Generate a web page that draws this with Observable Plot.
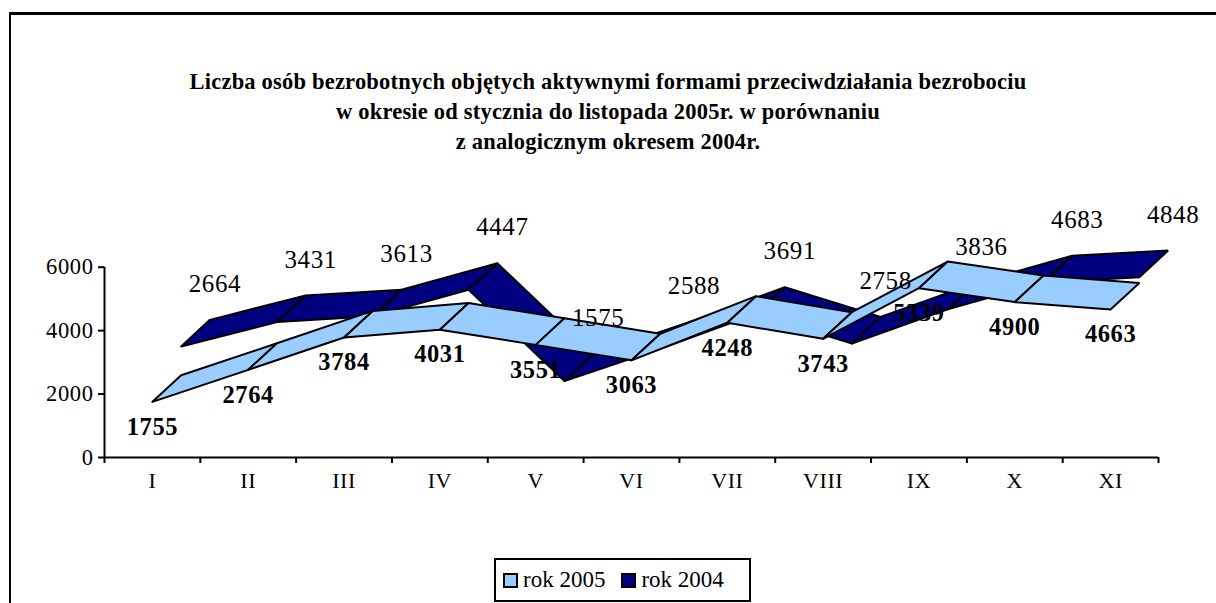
<!DOCTYPE html>
<html>
<head>
<meta charset="utf-8">
<script src="https://cdn.jsdelivr.net/npm/d3@7"></script>
<script src="https://cdn.jsdelivr.net/npm/@observablehq/plot@0.6"></script>
<style>
  html, body { margin: 0; padding: 0; background: #fff; }
  #page { position: relative; width: 1216px; height: 603px; overflow: hidden; font-family: "Liberation Serif", "Times New Roman", serif; color: #000; }
  #frame { position: absolute; left: 9px; top: 12px; width: 1300px; height: 700px; border-left: 2px solid #000; border-top: 3px solid #000; box-sizing: border-box; }
  #title { position: absolute; left: 0; top: 67px; width: 1216px; text-align: center; font-weight: bold; font-size: 22.5px; line-height: 30px; letter-spacing: 0.2px; }
  #chart { position: absolute; left: 0; top: 0; }
  #chart svg text { letter-spacing: 0.6px; }
  #legend { position: absolute; left: 494px; top: 558px; width: 257px; height: 44px; box-sizing: border-box; border: 2px solid #000; display: flex; align-items: center; padding-left: 7px; font-size: 23px; background: #fff; }
  .item { display: flex; align-items: center; margin-right: 16px; }
  .sw { width: 15px; height: 15px; box-sizing: border-box; border: 2px solid #000; margin-right: 5px; }
</style>
</head>
<body>
<div id="page">
  <div id="frame"></div>
  <div id="title">Liczba osób bezrobotnych objętych aktywnymi formami przeciwdziałania bezrobociu<br>w okresie od stycznia do listopada 2005r. w porównaniu<br>z analogicznym okresem 2004r.</div>
  <div id="chart"></div>
  <div id="legend"></div>
</div>
<script>
// ---- data ----
const months = ["I", "II", "III", "IV", "V", "VI", "VII", "VIII", "IX", "X", "XI"];
const values2005 = [1755, 2764, 3784, 4031, 3551, 3063, 4248, 3743, 5339, 4900, 4663];
const values2004 = [2664, 3431, 3613, 4447, 1575, 2588, 3691, 2758, 3836, 4683, 4848];
const seriesNames = ["rok 2005", "rok 2004"];
const seriesColors = ["#99CCFF", "#000080"];
const yTicks = [0, 2000, 4000, 6000];

// ---- 3D ribbon geometry (depth offset expressed in scale units) ----
const DEPTH_X = 0.3;   // fraction of a category per depth step
const DEPTH_Y = 838;   // value units per depth step

function ribbon(values, d0) {
  const rows = [];
  for (let k = 0; k < values.length - 1; k++) {
    const corners = [[k, d0], [k + 1, d0], [k + 1, d0 + 1], [k, d0 + 1], [k, d0]];
    for (const [i, d] of corners) {
      rows.push({seg: k, x: i + 0.5 + d * DEPTH_X, y: values[i] + d * DEPTH_Y});
    }
  }
  return rows;
}
const ribbon2005 = ribbon(values2005, 0);
const ribbon2004 = ribbon(values2004, 1);

const plot = Plot.plot({
  width: 1216,
  height: 603,
  marginLeft: 104,
  marginRight: 58,
  marginTop: 266.7,
  marginBottom: 146,
  style: {fontFamily: "'Liberation Serif', 'Times New Roman', serif", fontSize: "22px", color: "#000", background: "transparent", overflow: "visible"},
  x: {type: "linear", domain: [0, months.length]},
  y: {domain: [0, 6000]},
  marks: [
    Plot.axisY({ticks: yTicks, tickSize: 6, tickPadding: 5, tickFormat: d3.format("d"), label: null, fontSize: 22.5, strokeWidth: 2}),
    Plot.axisX({ticks: d3.range(months.length + 1), tickSize: 6, tickFormat: () => "", label: null, strokeWidth: 2}),
    Plot.text(months, {x: (d, i) => i + 0.5, y: 0, text: d => d, dy: 23, fontSize: 22}),
    Plot.ruleY([0], {stroke: "#000", strokeWidth: 2}),
    Plot.ruleX([0], {stroke: "#000", strokeWidth: 2}),
    Plot.line(ribbon2004, {x: "x", y: "y", z: "seg", fill: seriesColors[1], stroke: "#000", strokeWidth: 2, strokeLinejoin: "miter", curve: "linear"}),
    Plot.line(ribbon2005, {x: "x", y: "y", z: "seg", fill: seriesColors[0], stroke: "#000", strokeWidth: 2, strokeLinejoin: "miter", curve: "linear"}),
    Plot.text(values2004, {x: (d, i) => i + 0.5 + 2 * DEPTH_X, y: (d) => d + 2 * DEPTH_Y, text: d => String(d), dx: 5, dy: -36, fontSize: 25}),
    Plot.text(values2005, {x: (d, i) => i + 0.5, y: d => d, text: d => String(d), dy: 25, fontSize: 24.5, fontWeight: "bold"})
  ]
});
document.getElementById("chart").appendChild(plot);

// ---- legend ----
const legend = document.getElementById("legend");
seriesNames.forEach((name, i) => {
  const item = document.createElement("div");
  item.className = "item";
  const sw = document.createElement("div");
  sw.className = "sw";
  sw.style.background = seriesColors[i];
  const t = document.createElement("span");
  t.textContent = name;
  item.appendChild(sw);
  item.appendChild(t);
  legend.appendChild(item);
});
</script>
</body>
</html>
